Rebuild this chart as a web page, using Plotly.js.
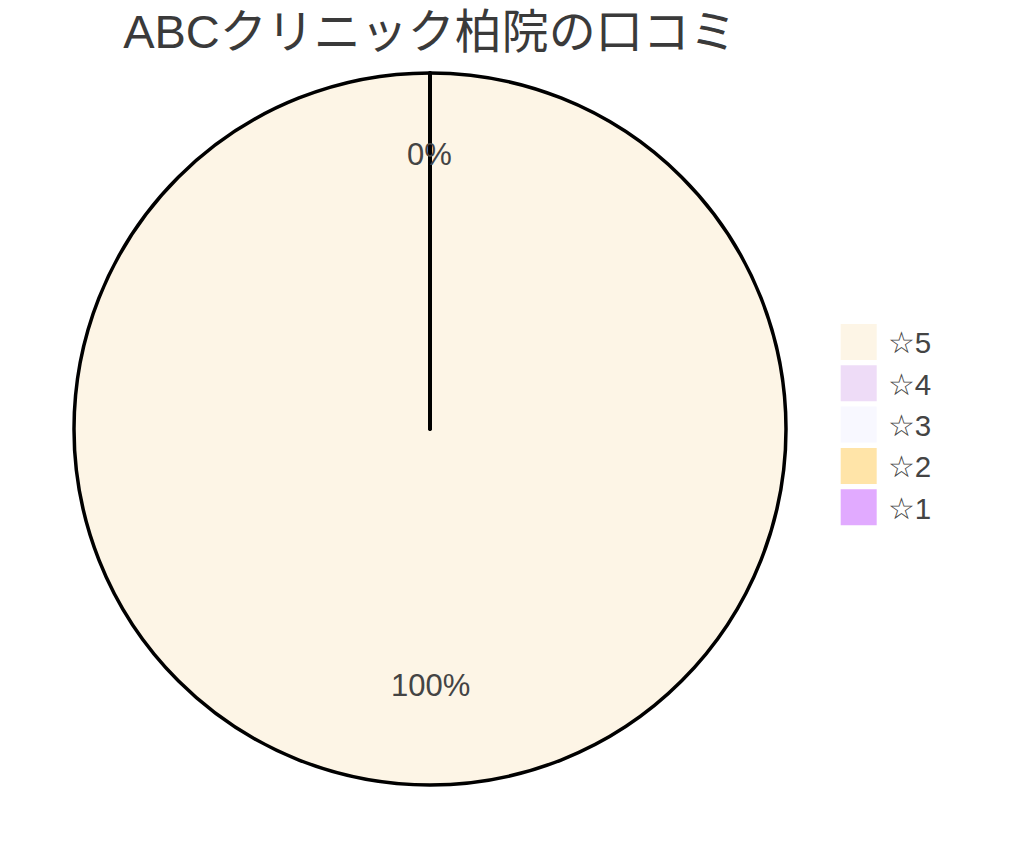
<!DOCTYPE html>
<html>
<head>
<meta charset="utf-8">
<script src="https://cdn.plot.ly/plotly-3.0.1.min.js"></script>
<style>
  html, body { margin: 0; padding: 0; background: #fff; }
  #chart { width: 1024px; height: 861px; }
</style>
</head>
<body>
<div id="chart"></div>
<script>
var ratings = ['☆5', '☆4', '☆3', '☆2', '☆1'];
var counts = [5, 0, 0, 0, 0];
var sliceColors = ['#fdf5e6', '#eedcf7', '#f8f8ff', '#ffe4a8', '#e1aaff'];

var trace = {
  type: 'pie',
  labels: ratings,
  values: counts,
  sort: false,
  direction: 'clockwise',
  rotation: 0,
  textinfo: 'none',
  marker: { colors: sliceColors, line: { color: '#000', width: 3.5 } },
  hoverinfo: 'label+percent'
};

// percent labels, placed along each slice's middle angle (clockwise from the top)
var total = counts.reduce(function (a, b) { return a + b; }, 0);
var annotations = [];
var seen = {};
var cum = 0;
for (var i = 0; i < counts.length; i++) {
  var share = counts[i] / total;
  var mid = (cum + counts[i] / 2) / total * 2 * Math.PI;
  cum += counts[i];
  var rf = share >= 0.5 ? 0.72 : 0.77;
  var ax = 0.5 + 0.5 * rf * Math.sin(mid);
  var ay = 0.5 + 0.5 * rf * Math.cos(mid);
  var key = ax.toFixed(3) + ',' + ay.toFixed(3);
  if (seen[key]) continue;
  seen[key] = true;
  annotations.push({
    xref: 'paper', yref: 'paper', x: ax, y: ay,
    xanchor: 'center', yanchor: 'middle', showarrow: false,
    text: Math.round(share * 100) + '%',
    font: { size: 31, color: '#444' }
  });
}

var layout = {
  width: 1024,
  height: 861,
  paper_bgcolor: '#fff',
  font: { family: 'Liberation Sans, Arial, sans-serif', color: '#444' },
  title: {
    text: 'ABCクリニック柏院の口コミ',
    font: { size: 47, color: '#3a3a3a', family: 'Liberation Sans, "Noto Sans CJK JP", sans-serif' },
    x: 0.5, xref: 'paper', xanchor: 'center',
    y: 1 - 32 / 861, yref: 'container', yanchor: 'middle'
  },
  margin: { l: 73, r: 237, t: 73, b: 76 },
  showlegend: true,
  legend: {
    x: 1.057, xanchor: 'left',
    y: 0.506, yanchor: 'middle',
    font: { size: 29.5, color: '#444' },
    itemwidth: 50
  },
  annotations: annotations
};

Plotly.newPlot('chart', [trace], layout, { displayModeBar: false, staticPlot: true }).then(function () {
  // bigger legend swatches like the reference
  var pts = document.querySelectorAll('.legendpoints path');
  for (var i = 0; i < pts.length; i++) {
    pts[i].setAttribute('transform', 'translate(31,0) scale(3)');
    pts[i].style.strokeWidth = '0';
  }
});
</script>
</body>
</html>
